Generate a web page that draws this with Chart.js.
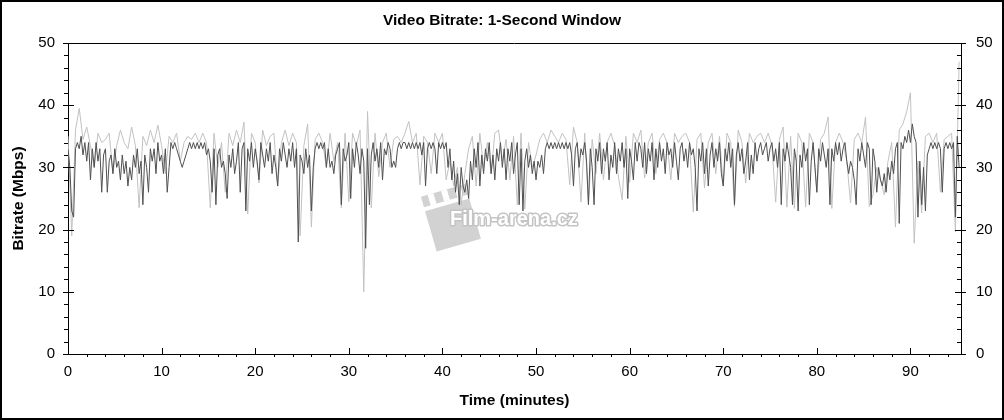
<!DOCTYPE html>
<html><head><meta charset="utf-8">
<script src="https://cdn.jsdelivr.net/npm/chart.js@4.4.0/dist/chart.umd.min.js"></script>
<style>html,body{margin:0;padding:0;background:#fff;overflow:hidden}#wrap{width:1004px;height:420px;position:relative}</style>
</head><body><div id="wrap"><canvas id="c" width="1004" height="420"></canvas></div>
<script>
const TITLE = 'Video Bitrate: 1-Second Window';
const X_TITLE = 'Time (minutes)';
const Y_TITLE = 'Bitrate (Mbps)';
const X_TICKS = [0, 10, 20, 30, 40, 50, 60, 70, 80, 90];
const Y_TICKS = [0, 10, 20, 30, 40, 50];
const X_MAX = 95.4;
const DARK_STEP_MIN = 0.2;   // minutes between samples of the main trace
const LIGHT_STEP_MIN = 0.4;  // minutes between samples of the peak trace

// main (dark) bitrate trace, Mbps, one value every 0.2 min
const bitrateMain = [
 33,30,23,22,33, 34,33,35,32,34, 31,34,28,33,30, 34,31,33,26,32, 33,26,31,32,29,
 33,30,31,28,32, 29,31,27,30,28, 32,30,33,29,31, 24,32,30,26,33, 31,33,29,34,31,
 32,29,33,26,30, 34,33,34,33,32, 31,30,31,32,33, 34,33,34,33,34, 33,34,33,34,32,
 33,31,26,33,24, 32,33,30,31,29, 25,32,30,33,29, 31,34,26,33,34, 23,33,31,34,30,
 33,31,28,34,32, 30,33,31,34,29, 32,30,27,33,31, 34,32,30,33,31, 34,30,33,18,32,
 31,29,33,30,32, 23,30,33,34,33, 34,33,34,30,33, 30,31,29,32,33, 34,24,33,31,32,
 34,25,33,30,34, 32,29,33,31,17, 33,24,32,34,31, 33,30,34,28,33, 32,34,33,30,31,
 30,33,34,33,34, 34,33,34,33,34, 33,34,33,34,32, 34,27,33,34,33, 34,33,29,34,33,
 34,33,34,30,33, 28,31,26,29,24, 30,27,26,28,25, 31,28,33,30,34, 27,32,29,33,31,
 34,29,32,28,33, 31,34,30,33,28, 33,31,34,29,32, 34,24,33,23,31, 33,30,32,29,31,
 28,31,30,32,29, 33,34,33,34,33, 34,33,34,33,34, 33,34,33,34,32, 27,33,34,30,33,
 32,34,31,24,33, 30,24,33,31,34, 29,33,31,34,28, 32,30,34,29,33, 31,34,30,33,25,
 33,31,28,34,31, 34,33,30,34,29, 33,31,34,28,33, 30,34,31,33,29, 34,32,33,30,34,
 31,28,33,34,31, 33,30,34,32,33, 30,23,33,31,34, 29,33,27,32,34, 30,33,31,34,29,
 27,33,31,34,30, 33,24,32,34,31, 33,29,31,34,28, 32,29,34,31,33, 34,32,33,34,31,
 33,34,31,33,30, 34,24,33,31,34, 32,30,24,33,31, 23,32,30,34,31, 33,24,31,34,30,
 26,33,31,34,32, 30,33,24,33,31, 34,32,34,31,33, 34,31,29,31,30, 28,24,33,31,34,
 32,30,34,33,24, 33,31,26,30,28, 27,29,26,30,28, 31,29,33,34,21, 34,33,35,34,36,
 34,37,35,34,22, 31,24,30,23,32, 33,34,33,34,33, 34,33,26,33,34, 33,34,33,34,22,
 35,30
];

// peak (light) trace, Mbps, one value every 0.4 min
const bitratePeak = [
 35,19,36,39.5,34.5, 36.5,33.5,30,35.5,34, 34.5,35.5,29,33.5,36, 34,33,36.5,33.5,23.5,
 35,33.5,36,34,36.8, 33.5,29,35,34,35.5, 31,34,35,34.5,35.5, 34,35.5,34,23.5,35.5,
 30,34,26,35.5,33.5, 36,34,37.3,22.5,35.5, 34,27.5,36,33.5,35, 35.5,27,34,36,33.5,
 35.5,34,19,33.5,37, 20.4,34.5,35.5,34,30, 35.5,31,34,23.5,35.5, 24.5,35.5,33.5,36,10,
 39,23.5,35.5,28.5,34, 35.5,30,34.5,35,34, 35.5,37.4,34,35.5,27.2, 35,34,29,35.5,34,
 35.5,28,31,27,30, 24,29,33,35,27, 35.5,30,34,29,35.5, 36,31,34.5,28,35,
 24,35.5,23.3,34,30, 32,34.5,35.5,34,36, 35,34,35.5,34.5,27.2, 36.5,34,24.4,35.5,24.1,
 34.5,29,35.5,28,34, 35.5,33.5,28.5,24.8,35, 27.6,35.5,34,36,28.3, 34,35.5,29,34.5,35.5,
 34,28,35.5,34,35, 35.5,34,22.8,34.5,35.5, 26.7,34,35.5,29,35, 27,35.5,34,23.6,36,
 34,27.5,35.5,34,35, 35.5,34,35.5,33.5,24.4, 34.5,36.5,23.6,35,23.4, 35.5,34,23.6,35.5,34,
 26,34.5,35.5,38.1,23.4, 34,35.5,34,31,24.3, 34.5,35.5,34,38.1,23.7, 25.6,30,28,25.6,31,
 34,20.4,36,37,39, 42,17.8,31,22.7,35, 35.5,34,35.5,26,34.5, 35,35.5,19.6,47
];

const FONT = '"Liberation Sans", Arial, sans-serif';
const toPoints = (vals, step) => vals.map((v, i) => ({x: +(i * step).toFixed(2), y: v}));

const decor = {
  id: 'decor',
  beforeDatasetsDraw(chart) {
    const ctx = chart.ctx;
    ctx.save();
    // watermark clapperboard + text
    ctx.translate(452, 218);
    ctx.rotate(-0.28);
    ctx.fillStyle = '#d2d2d2';
    ctx.fillRect(-24, -14, 46, 42);
    ctx.fillRect(-24, -29, 46, 11);
    ctx.fillStyle = '#ffffff';
    for (let k = 0; k < 3; k++) ctx.fillRect(-17 + k * 14, -29, 6, 11);
    ctx.restore();
    ctx.save();
    ctx.font = 'bold 20px ' + FONT;
    ctx.textBaseline = 'middle';
    ctx.lineJoin = 'round';
    ctx.lineWidth = 3;
    ctx.strokeStyle = '#c4c4c4';
    ctx.strokeText('Film-arena.cz', 450, 219);
    ctx.fillStyle = '#ffffff';
    ctx.fillText('Film-arena.cz', 450, 219);
    ctx.restore();
  },
  afterDraw(chart) {
    const {ctx, chartArea: a, scales} = chart;
    const ys = scales.y, xs = scales.x;
    ctx.save();
    ctx.strokeStyle = '#000';
    ctx.lineWidth = 1;
    ctx.beginPath();
    ctx.moveTo(a.left, Math.round(a.top) + 0.5); ctx.lineTo(a.right, Math.round(a.top) + 0.5);
    for (let v = 0; v <= 50; v += 2) {
      const py = Math.round(ys.getPixelForValue(v)) + 0.5;
      const major = v % 10 === 0;
      ctx.moveTo(a.left - (major ? 5 : 4), py); ctx.lineTo(a.left + (major ? 6 : 0), py);
      ctx.moveTo(a.right - (major ? 6 : 4), py); ctx.lineTo(a.right + (major ? 5 : 0), py);
    }
    for (let m = 0; m <= X_MAX; m += 2) {
      const px = Math.round(xs.getPixelForValue(m)) + 0.5;
      const major = m % 10 === 0;
      if (major) { ctx.moveTo(px, a.bottom - 6); ctx.lineTo(px, a.bottom); }
      else { ctx.moveTo(px, a.bottom); ctx.lineTo(px, a.bottom + 3); }
    }
    ctx.stroke();
    ctx.lineWidth = 2;
    ctx.strokeRect(1, 1, chart.width - 2, chart.height - 2);
    ctx.restore();
  }
};

new Chart(document.getElementById('c'), {
  type: 'line',
  data: {
    datasets: [
      {label: 'Peak', data: toPoints(bitratePeak, LIGHT_STEP_MIN), borderColor: '#c2c2c2', borderWidth: 1, pointRadius: 0, tension: 0, order: 2, yAxisID: 'y'},
      {label: 'Bitrate', data: toPoints(bitrateMain, DARK_STEP_MIN), borderColor: '#505050', borderWidth: 1, pointRadius: 0, tension: 0, order: 1, yAxisID: 'y'}
    ]
  },
  options: {
    responsive: false,
    animation: false,
    devicePixelRatio: 1,
    layout: {padding: {left: 0, right: 0, top: 0, bottom: 0}},
    plugins: {
      legend: {display: false},
      tooltip: {enabled: false},
      title: {display: true, text: TITLE, color: '#000', font: {family: FONT, size: 15.5, weight: 'bold'}, padding: {top: 11, bottom: 13.4}}
    },
    scales: {
      x: {
        type: 'linear', min: 0, max: X_MAX, position: 'bottom',
        afterBuildTicks: s => { s.ticks = X_TICKS.map(v => ({value: v})); },
        afterFit: s => { s.height = 66; },
        grid: {display: false, drawTicks: false},
        border: {display: true, color: '#000', width: 1},
        ticks: {color: '#000', font: {family: FONT, size: 15}, padding: 9, maxRotation: 0, autoSkip: false},
        title: {display: true, text: X_TITLE, color: '#000', font: {family: FONT, size: 15.5, weight: 'bold'}, padding: {top: 0, bottom: 10}}
      },
      y: {
        type: 'linear', min: 0, max: 50, position: 'left',
        afterBuildTicks: s => { s.ticks = Y_TICKS.map(v => ({value: v})); },
        afterFit: s => { s.width = 68; },
        grid: {display: false, drawTicks: false},
        border: {display: true, color: '#000', width: 1},
        ticks: {color: '#000', font: {family: FONT, size: 15}, padding: 13},
        title: {display: true, text: Y_TITLE, color: '#000', font: {family: FONT, size: 15.5, weight: 'bold'}, padding: {top: 9, bottom: 0}}
      },
      y2: {
        type: 'linear', min: 0, max: 50, position: 'right',
        afterBuildTicks: s => { s.ticks = Y_TICKS.map(v => ({value: v})); },
        afterFit: s => { s.width = 43; },
        grid: {display: false, drawTicks: false},
        border: {display: true, color: '#000', width: 1},
        ticks: {color: '#000', font: {family: FONT, size: 15}, padding: 15}
      }
    }
  },
  plugins: [decor]
});
</script></body></html>
